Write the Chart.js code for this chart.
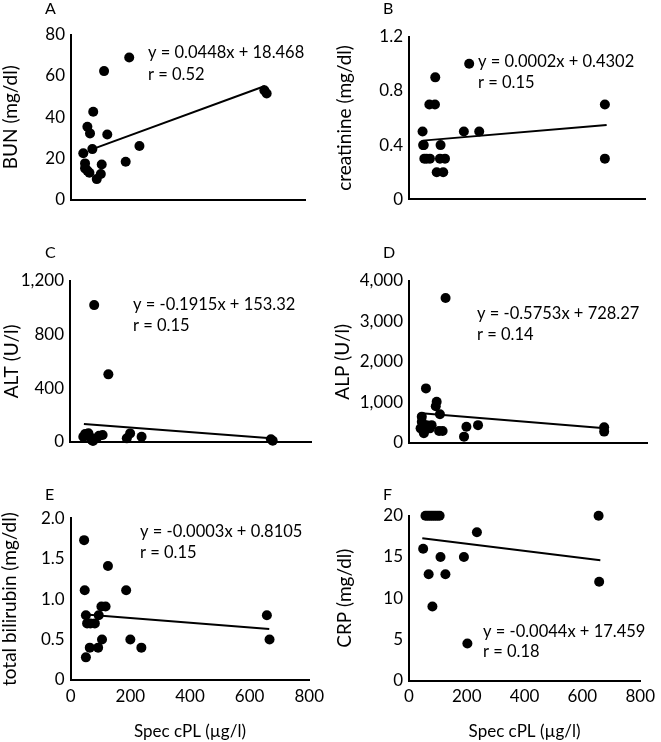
<!DOCTYPE html>
<html>
<head>
<meta charset="utf-8">
<title>Spec cPL vs serum parameters</title>
<script src="https://cdn.jsdelivr.net/npm/chart.js@4.4.0/dist/chart.umd.min.js"></script>
<style>
  body { margin: 0; background: #fff; overflow: hidden; }
  #wrap { position: relative; width: 661px; height: 742px; }
  canvas { position: absolute; }
</style>
</head>
<body>
<div id="wrap">
  <canvas id="panelA"></canvas>
  <canvas id="panelB"></canvas>
  <canvas id="panelC"></canvas>
  <canvas id="panelD"></canvas>
  <canvas id="panelE"></canvas>
  <canvas id="panelF"></canvas>
</div>
<script>
// Six scatter panels: Spec cPL (x) against serum parameters (y), each with a linear trendline

// Data
// A - BUN
let cplBun = [42, 48, 48, 56, 63, 56, 65, 73, 76, 88, 102, 105, 113, 124, 187, 199, 234, 661, 669];
let bun = [22.6, 17.7, 15.3, 14.2, 13.2, 35.4, 32.2, 24.6, 42.7, 10.1, 12.6, 17.2, 62.3, 31.7, 18.5, 68.9, 26.1, 53, 51.5];
let bunTrendX = [71, 663];
let bunTrendY = [24.5, 55.1];

// B - creatinine
let cplCrea = [46, 48, 50, 52, 60, 71, 69, 88, 89, 94, 105, 107, 116, 122, 186, 204, 238, 664, 664];
let crea = [0.5, 0.4, 0.4, 0.3, 0.3, 0.3, 0.7, 0.7, 0.9, 0.2, 0.3, 0.4, 0.2, 0.3, 0.5, 1.0, 0.5, 0.7, 0.3];
let creaTrendX = [46, 670];
let creaTrendY = [0.433, 0.548];

// C - ALT
let cplAlt = [44, 50, 61, 66, 72, 76, 80, 88, 96, 108, 127, 188, 199, 237, 665, 671];
let alt = [37, 57, 63, 35, 13, 5, 1020, 25, 45, 50, 503, 25, 62, 37, 18, 7];
let altTrendX = [46, 665];
let altTrendY = [132, 25];

// D - ALP
let cplAlp = [39, 43, 43, 50, 57, 59, 70, 76, 90, 93, 101, 104, 113, 123, 185, 193, 232, 656, 656];
let alp = [350, 640, 515, 230, 1340, 430, 350, 430, 900, 1010, 285, 700, 285, 3580, 145, 390, 430, 375, 270];
let alpTrendX = [43, 659];
let alpTrendY = [723, 351];

// E - total bilirubin
let cplBili = [45, 47, 51, 55, 51, 66, 81, 64, 94, 92, 103, 117, 105, 125, 186, 200, 237, 658, 667];
let bili = [1.73, 1.11, 0.8, 0.7, 0.28, 0.7, 0.7, 0.4, 0.8, 0.4, 0.91, 0.91, 0.5, 1.41, 1.11, 0.5, 0.4, 0.8, 0.5];
let biliTrendX = [51, 666];
let biliTrendY = [0.81, 0.63];

// F - CRP
let cplCrp = [57, 64, 71, 78, 85, 92, 99, 106, 49, 68, 81, 109, 126, 190, 202, 235, 656, 658];
let crp = [20, 20, 20, 20, 20, 20, 20, 20, 16, 12.9, 9, 15, 12.9, 15, 4.5, 18, 20, 12];
let crpTrendX = [46, 662];
let crpTrendY = [17.26, 14.6];

// Shared x axis
let cplMax = 800;
let cplStep = 200;
let cplTitle = 'Spec cPL (\u00b5g/l)';

Chart.defaults.font.family = 'Lato';
Chart.defaults.color = '#000';

function toPoints(xs, ys) {
  return xs.map(function (x, i) {
    return { x: x, y: ys[i] };
  });
}

function plainTick(v) {
  return v.toLocaleString('en-US');
}

function oneDecimalTick(v) {
  return v === 0 ? '0' : v.toFixed(1);
}

// Draws the panel letter and the regression text
const panelText = {
  id: 'panelText',
  afterDraw(chart, args, opts) {
    let ctx = chart.ctx;
    ctx.save();
    ctx.fillStyle = '#000';
    ctx.textAlign = 'left';
    ctx.textBaseline = 'middle';
    ctx.font = '16px Lato';
    ctx.fillText(opts.letter, opts.letterX, opts.letterY);
    ctx.font = '16.5px Lato';
    ctx.fillText(opts.eq, opts.eqX, opts.eqY);
    ctx.fillText(opts.r, opts.eqX, opts.rY);
    ctx.restore();
  }
};

// Page layout for each panel (canvas box and plot box in page pixels)
let panels = [
  { id: 'panelA', box: [0, 0, 330, 230], plot: [71, 305, 34.5, 200], xs: cplBun, ys: bun, tx: bunTrendX, ty: bunTrendY,
    yMax: 80, yStep: 20, fmt: plainTick, yTitle: 'BUN (mg/dl)', titlePad: 1.5, showX: false,
    letter: 'A', letterAt: [45, 9], eq: 'y = 0.0448x + 18.468', r: 'r = 0.52', eqAt: [148, 53, 75] },
  { id: 'panelB', box: [330, 0, 331, 230], plot: [409, 645, 36.7, 199.3], xs: cplCrea, ys: crea, tx: creaTrendX, ty: creaTrendY,
    yMax: 1.2, yStep: 0.4, fmt: oneDecimalTick, yTitle: 'creatinine (mg/dl)', titlePad: 5.5, showX: false,
    letter: 'B', letterAt: [383, 9], eq: 'y = 0.0002x + 0.4302', r: 'r = 0.15', eqAt: [478, 62, 83] },
  { id: 'panelC', box: [0, 220, 330, 240], plot: [70, 311.7, 281, 441.7], xs: cplAlt, ys: alt, tx: altTrendX, ty: altTrendY,
    yMax: 1200, yStep: 400, fmt: plainTick, yTitle: 'ALT (U/l)', titlePad: 2.5, showX: false,
    letter: 'C', letterAt: [45, 253], eq: 'y = -0.1915x + 153.32', r: 'r = 0.15', eqAt: [133, 305, 326] },
  { id: 'panelD', box: [330, 220, 331, 240], plot: [409, 647, 281, 442.5], xs: cplAlp, ys: alp, tx: alpTrendX, ty: alpTrendY,
    yMax: 4000, yStep: 1000, fmt: plainTick, yTitle: 'ALP (U/l)', titlePad: 3.5, showX: false,
    letter: 'D', letterAt: [383, 253], eq: 'y = -0.5753x + 728.27', r: 'r = 0.14', eqAt: [477, 314, 335] },
  { id: 'panelE', box: [0, 450, 330, 292], plot: [70.7, 312, 518.3, 680], xs: cplBili, ys: bili, tx: biliTrendX, ty: biliTrendY,
    yMax: 2, yStep: 0.5, fmt: oneDecimalTick, yTitle: 'total bilirubin (mg/dl)', titlePad: 0.5, showX: true,
    letter: 'E', letterAt: [45, 495], eq: 'y = -0.0003x + 0.8105', r: 'r = 0.15', eqAt: [140, 532, 553] },
  { id: 'panelF', box: [330, 450, 331, 292], plot: [409, 647, 515.7, 680.7], xs: cplCrp, ys: crp, tx: crpTrendX, ty: crpTrendY,
    yMax: 20, yStep: 5, fmt: plainTick, yTitle: 'CRP (mg/dl)', titlePad: 5.5, showX: true,
    letter: 'F', letterAt: [383, 495], eq: 'y = -0.0044x + 17.459', r: 'r = 0.18', eqAt: [483, 632, 652] }
];

function makePanel(p) {
  let canvas = document.getElementById(p.id);
  let [bx, by, bw, bh] = p.box;
  let [pl, pr, pt, pb] = p.plot;
  canvas.width = bw;
  canvas.height = bh;
  canvas.style.left = bx + 'px';
  canvas.style.top = by + 'px';

  let yAxisWidth = pl - bx;
  let xAxisHeight = by + bh - pb;

  return new Chart(canvas, {
    type: 'scatter',
    data: {
      datasets: [
        {
          data: toPoints(p.xs, p.ys),
          backgroundColor: '#000',
          borderWidth: 0,
          pointRadius: 5,
          pointHoverRadius: 5,
          clip: false
        },
        {
          type: 'line',
          data: toPoints(p.tx, p.ty),
          borderColor: '#000',
          borderWidth: 2,
          pointRadius: 0,
          fill: false,
          clip: false
        }
      ]
    },
    options: {
      responsive: false,
      animation: false,
      devicePixelRatio: 1,
      layout: {
        padding: { left: 0, bottom: 0, top: pt - by, right: bx + bw - pr }
      },
      plugins: {
        legend: { display: false },
        tooltip: { enabled: false },
        panelText: {
          letter: p.letter, letterX: p.letterAt[0] - bx, letterY: p.letterAt[1] - by,
          eq: p.eq, r: p.r, eqX: p.eqAt[0] - bx, eqY: p.eqAt[1] - by, rY: p.eqAt[2] - by
        }
      },
      scales: {
        x: {
          type: 'linear',
          min: 0,
          max: cplMax,
          grid: { display: false, drawTicks: false },
          border: { display: true, color: '#000', width: 2 },
          ticks: { display: p.showX, stepSize: cplStep, padding: 6, font: { size: 17 }, color: '#000' },
          title: { display: p.showX, text: cplTitle, font: { size: 17 }, color: '#000', padding: { top: 0, bottom: 0 } },
          afterFit: function (scale) { scale.height = xAxisHeight; }
        },
        y: {
          type: 'linear',
          min: 0,
          max: p.yMax,
          grid: { display: false, drawTicks: false },
          border: { display: true, color: '#000', width: 2 },
          ticks: { stepSize: p.yStep, padding: 6, font: { size: 17 }, color: '#000', callback: p.fmt },
          title: { display: true, text: p.yTitle, font: { size: 19, lineHeight: 1 }, color: '#000', padding: { top: p.titlePad, bottom: 0 } },
          afterFit: function (scale) { scale.width = yAxisWidth; }
        }
      }
    },
    plugins: [panelText]
  });
}

panels.forEach(makePanel);
</script>
</body>
</html>
